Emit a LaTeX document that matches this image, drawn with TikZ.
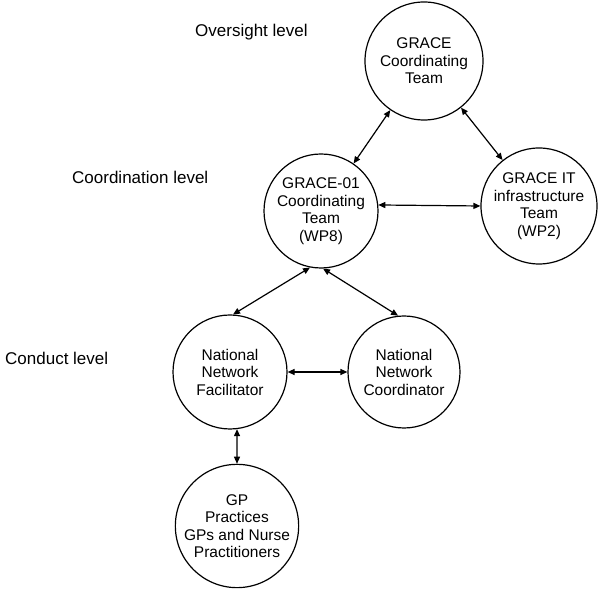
\documentclass[tikz,border=0pt]{standalone}
\usepackage{fontspec}
\setmainfont{Liberation Sans}
\usetikzlibrary{arrows.meta}
\begin{document}
\begin{tikzpicture}[x=1pt,y=1pt,
  circ/.style={circle, draw, line width=1.2pt, inner sep=0pt, align=center,
    font=\fontsize{15.5}{17.5}\selectfont},
  lvl/.style={anchor=west, inner sep=0pt, font=\fontsize{17}{20}\selectfont},
  conn/.style={line width=1.2pt, {Triangle[length=7pt,width=6pt]}-{Triangle[length=7pt,width=6pt]}}
]
\useasboundingbox (0,0) rectangle (600,591);
\node[circ, minimum size=118pt] (gct) at (424,530) {GRACE\\Coordinating\\Team};
\node[circ, minimum size=114pt] (g01) at (321,380) {GRACE-01\\Coordinating\\Team\\(WP8)};
\node[circ, minimum size=116pt] (git) at (539,385) {GRACE IT\\infrastructure\\Team\\(WP2)};
\node[circ, minimum size=114pt] (nnf) at (230,219) {National\\Network\\Facilitator};
\node[circ, minimum size=112pt] (nnc) at (404,219) {National\\Network\\Coordinator};
\node[circ, minimum size=112pt] (gp) at (237,65) {GP\\Practices\\GPs and Nurse\\Practitioners};

\node[lvl] (l1) at (195,559) {Oversight level};
\node[lvl] (l2) at (72,414) {Coordination level};
\node[lvl] (l3) at (5,233) {Conduct level};

\draw[conn] (g01) -- (gct);
\draw[conn] (gct) -- (git);
\draw[conn] (g01.6) -- (git.180);
\draw[conn] (g01.259) -- (nnf.87);
\draw[conn] (g01.272) -- (nnc.96);
\draw[conn] (nnf.east) -- (nnc.west);
\draw[conn] (nnf.277) -- (gp.north);
\end{tikzpicture}
\end{document}
